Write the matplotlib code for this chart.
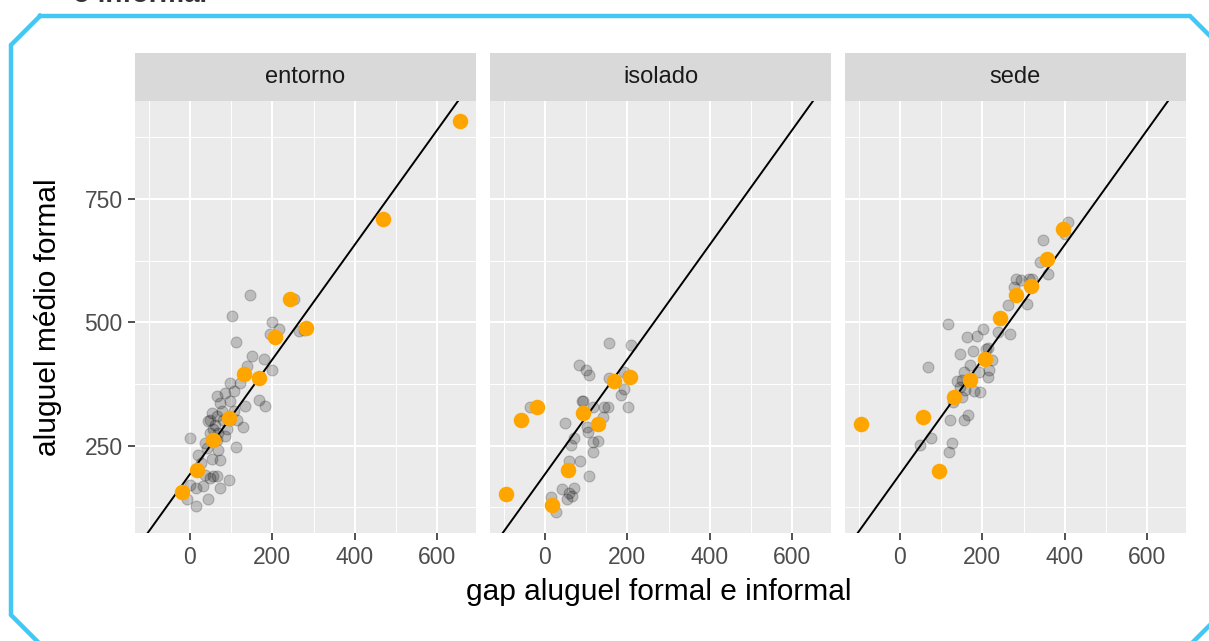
import numpy as np
import matplotlib.pyplot as plt
from matplotlib.ticker import MultipleLocator

plt.rcParams['font.family'] = ['Liberation Sans', 'DejaVu Sans']

# facets
facets = ['entorno', 'isolado', 'sede']

# municipios (pontos cinza): gap, aluguel
entorno_gap = [146, 102, 112, 199, 216, 195, 265, 252, 151, 181, 138, 199, 98, 122, 106, 65,
               85, 73, 98, 133, 168, 183, 53, 45, 65, 77, 106, 114, 128, 89, 57, 85, 112, 0,
               37, 69, 20, 53, 73, 28, 57, 65, 33, 94, 73, 0, 16, -8, 16, 43, 49, 37, 49, 61,
               69, 49, 81, 98, 65, 41, 468, 277]
entorno_alug = [555, 514, 460, 500, 487, 476, 482, 547, 431, 426, 411, 403, 377, 377, 360, 350,
                357, 337, 340, 331, 343, 330, 316, 300, 310, 320, 320, 303, 287, 283, 283, 269, 247, 266,
                256, 242, 232, 223, 222, 215, 188, 188, 168, 181, 164, 171, 164, 141, 128, 141, 185, 191, 303, 293,
                276, 276, 303, 303, 262, 245, 710, 485]

isolado_gap = [156, 209, 83, 101, 106, 156, 193, 201, 191, 184, -35, 93, 116, 144, 154, 140,
               201, 50, 103, 105, 71, 64, 116, 128, 118, 59, 85, 106, 42, 71, 59, 54, 67, 14, 28, 91]
isolado_alug = [459, 455, 414, 404, 393, 387, 399, 392, 365, 353, 328, 340, 329, 328, 329, 309,
                328, 296, 287, 278, 265, 252, 257, 259, 237, 220, 220, 188, 162, 164, 155, 142, 149, 147, 115, 341]

sede_gap = [407, 401, 346, 340, 359, 281, 293, 313, 321, 278, 309, 262, 116, 201, 163, 187,
            238, 267, 208, 213, 145, 178, 224, 169, 155, 216, 214, 191, 150, 146, 159, 181, 195, 68,
            150, 130, 122, 155, 165, 76, 49, 126, 120, 138]
sede_alug = [703, 680, 667, 622, 599, 589, 586, 589, 589, 572, 538, 536, 496, 486, 471, 472,
             480, 476, 447, 449, 435, 443, 424, 413, 400, 403, 390, 400, 383, 370, 363, 361, 358, 410,
             349, 339, 302, 302, 312, 265, 251, 255, 238, 381]

# medias (pontos laranja)
entorno_gap_m = [655, 468, 244, 281, 206, 131, 168, 94, 56, 18, -19]
entorno_alug_m = [909, 709, 547, 488, 470, 395, 388, 306, 262, 200, 157]
isolado_gap_m = [-94, 18, 56, 130, 93, -57, -19, 168, 207]
isolado_alug_m = [152, 130, 201, 294, 316, 303, 328, 382, 389]
sede_gap_m = [-95, 55, 94, 132, 169, 206, 244, 281, 319, 356, 395]
sede_alug_m = [295, 309, 199, 349, 383, 425, 508, 556, 574, 629, 690]

# reta de referencia
intercept = 192
slope = 1.164

gray_pts = {'entorno': (entorno_gap, entorno_alug),
            'isolado': (isolado_gap, isolado_alug),
            'sede': (sede_gap, sede_alug)}
mean_pts = {'entorno': (entorno_gap_m, entorno_alug_m),
            'isolado': (isolado_gap_m, isolado_alug_m),
            'sede': (sede_gap_m, sede_alug_m)}

W, H = 1209, 641
fig = plt.figure(figsize=(W / 100, H / 100), dpi=100)


def box(x0, y0, x1, y1):
    return [x0 / W, 1 - y1 / H, (x1 - x0) / W, (y1 - y0) / H]


# moldura azul
frame = fig.add_axes([0, 0, 1, 1], zorder=-1)
frame.set_xlim(0, W)
frame.set_ylim(H, 0)
frame.axis('off')
fx = [40, 1190, 1222, 1222, 1190, 41, 11, 11, 40]
fy = [16, 16, 48, 613, 645, 645, 615, 45, 16]
frame.plot(fx, fy, color='#43C8F5', lw=3.2, clip_on=False, solid_joinstyle='miter')

# titulo cortado no topo (como no original)
fig.text(73 / W, 1 - 1.5 / H, 'o informal', fontsize=20, fontweight='bold',
         color='#333333', va='baseline', ha='left')

lefts = [135, 490, 845]
for i, name in enumerate(facets):
    l = lefts[i]
    ax = fig.add_axes(box(l, 101, l + 341, 533))
    ax.set_facecolor('#EBEBEB')
    for s in ax.spines.values():
        s.set_visible(False)
    ax.set_xlim(-133, 694)
    ax.set_ylim(73, 949)
    ax.xaxis.set_major_locator(MultipleLocator(200))
    ax.xaxis.set_minor_locator(MultipleLocator(100))
    ax.yaxis.set_major_locator(MultipleLocator(250))
    ax.yaxis.set_minor_locator(MultipleLocator(125))
    ax.grid(which='major', color='white', lw=1.5)
    ax.grid(which='minor', color='white', lw=0.7)
    ax.set_axisbelow(True)
    ax.tick_params(which='minor', length=0)
    ax.tick_params(which='major', length=5, width=1.2, color='#333333',
                   labelsize=16.5, labelcolor='#4D4D4D', pad=4)
    if i > 0:
        ax.tick_params(axis='y', left=False, labelleft=False)

    gx, gy = gray_pts[name]
    ax.scatter(gx, gy, s=62, color='black', alpha=0.2, edgecolors='black',
               linewidths=0.8, zorder=2)
    ax.axline((0, intercept), slope=slope, color='black', lw=1.4, zorder=3)
    mx, my = mean_pts[name]
    ax.scatter(mx, my, s=125, color='#FFA500', linewidths=0, zorder=4)

    strip = fig.add_axes(box(l, 53, l + 341, 101))
    strip.set_facecolor('#D9D9D9')
    strip.set_xticks([])
    strip.set_yticks([])
    for s in strip.spines.values():
        s.set_visible(False)
    strip.text(0.5, 0.5, name, ha='center', va='center', fontsize=17,
               color='#1A1A1A', transform=strip.transAxes)

fig.text(659 / W, 1 - 592 / H, 'gap aluguel formal e informal', ha='center',
         va='center', fontsize=21.5)
fig.text(48 / W, 1 - 317 / H, 'aluguel médio formal', ha='center', va='center',
         rotation=90, fontsize=21.5)

fig.savefig('out.png', dpi=100)
